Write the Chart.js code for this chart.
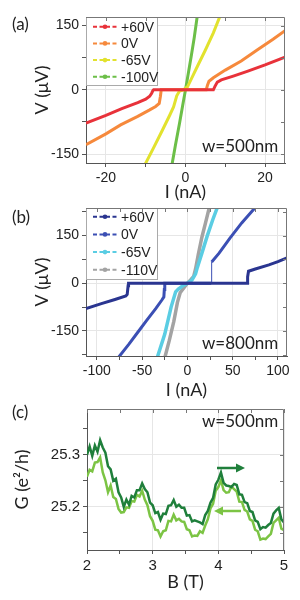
<!DOCTYPE html>
<html>
<head>
<meta charset="utf-8">
<script src="https://cdn.jsdelivr.net/npm/chart.js@4.4.1/dist/chart.umd.min.js"></script>
<style>
  html, body { margin: 0; padding: 0; background: #fff; width: 300px; height: 600px; overflow: hidden; }
  canvas { position: absolute; left: 0; }
</style>
</head>
<body>
<canvas id="chartA" width="300" height="205" style="top:0px"></canvas>
<canvas id="chartB" width="300" height="210" style="top:195px"></canvas>
<canvas id="chartC" width="300" height="205" style="top:395px"></canvas>
<script>
// ---- panel (a): w=500nm ----
const aLabels = ['+60V', '0V', '-65V', '-100V'];
const aColors = ['#e8323a', '#f6893c', '#e2e22e', '#6cbf48'];
const aI60 = [-25, -20, -16, -12, -10, -9, -8.5, -8.2, -8, -4, 0, 4, 7, 7.4, 8, 9, 12, 15.5, 20, 25];
const aV60 = [-78, -60, -44, -30, -22, -15, -8, -2, 0, 0, 0, 0, 0, 8, 18, 23, 32, 43, 58, 76];
const aI0 = [-25, -20, -16.3, -12, -9, -7.5, -6.6, -6.3, -6.1, -3, 0, 3, 5.2, 5.5, 5.9, 7, 10, 14, 18, 22, 25];
const aV0 = [-128, -103, -82, -62, -47, -39, -32, -15, 0, 0, 0, 0, 0, 10, 20, 28, 46, 67, 93, 118, 138];
const aI65 = [-10.2, -8, -6, -4, -3, -2.2, -1.5, -0.5, 0.5, 1.5, 3, 5, 7, 8.8];
const aV65 = [-175, -135, -98, -60, -40, -14, -3, 0, 7, 26, 55, 93, 133, 175];
const aI100 = [-3.4, -2.5, -1.5, -0.7, 0, 0.7, 1.5, 2.2, 3.0];
const aV100 = [-175, -128, -78, -36, 0, 38, 82, 122, 175];
const aXMajor = [-20, 0, 20], aXMinor = [-10, 10];
const aYMajor = [-150, 0, 150], aYMinor = [-75, 75];

// ---- panel (b): w=800nm ----
const bLabels = ['+60V', '0V', '-65V', '-110V'];
const bColors = ['#2a3590', '#3b4fb4', '#5acde3', '#a3a3a3'];
const bI60 = [-112, -95, -80, -68, -66.5, -65.5, -65, -30, 0, 30, 66, 66.5, 67.5, 75, 90, 100, 110];
const bV60 = [-80, -64, -51, -40, -35, -8, 0, 0, 0, 0, 0, 20, 38, 45, 58, 68, 80];
const bI0 = [-78, -65, -55, -45, -35, -28, -26, -25.5, -25, -10, 0, 10, 26.3, 26.8, 35, 47, 60, 76];
const bV0 = [-240, -193, -155, -117, -80, -52, -43, -20, 0, 0, 0, 0, 0, 67, 95, 142, 190, 242];
const bI65 = [-34, -25, -18, -13, -10, -5, 0, 5, 9, 11, 16, 22, 28, 33.5];
const bV65 = [-240, -160, -75, -27, -18, -8, 0, 10, 30, 50, 95, 150, 200, 242];
const bI110 = [-25.5, -20, -15, -11, -8, -4, 0, 4, 7, 9, 12, 16, 20, 24.5];
const bV110 = [-240, -180, -120, -60, -30, -15, 0, 12, 22, 45, 90, 145, 190, 242];
const bXMajor = [-100, -50, 0, 50, 100], bXMinor = [-75, -25, 25, 75];
const bYMajor = [-150, 0, 150], bYMinor = [-225, -75, 75, 225];

// ---- panel (c): G vs B, sweep up / sweep down ----
const cB = [2.00, 2.04, 2.08, 2.12, 2.16, 2.20, 2.24, 2.28, 2.32, 2.36, 2.40, 2.44, 2.48, 2.52, 2.56, 2.60,
  2.64, 2.68, 2.72, 2.76, 2.80, 2.84, 2.88, 2.92, 2.96, 3.00, 3.04, 3.08, 3.12, 3.16, 3.20, 3.24, 3.28,
  3.32, 3.36, 3.40, 3.44, 3.48, 3.52, 3.56, 3.60, 3.64, 3.68, 3.72, 3.76, 3.80, 3.84, 3.88, 3.92, 3.96,
  4.00, 4.04, 4.08, 4.12, 4.16, 4.20, 4.24, 4.28, 4.32, 4.36, 4.40, 4.44, 4.48, 4.52, 4.56, 4.60, 4.64,
  4.68, 4.72, 4.76, 4.80, 4.84, 4.88, 4.92, 4.96, 5.00];
const cUp = [25.300, 25.316, 25.298, 25.318, 25.306, 25.328, 25.314, 25.304, 25.278, 25.272, 25.250, 25.254,
  25.228, 25.218, 25.200, 25.214, 25.204, 25.221, 25.218, 25.232, 25.232, 25.245, 25.234, 25.228, 25.208,
  25.203, 25.188, 25.190, 25.175, 25.187, 25.186, 25.202, 25.203, 25.213, 25.200, 25.204, 25.198, 25.198,
  25.183, 25.184, 25.172, 25.174, 25.172, 25.170, 25.167, 25.184, 25.192, 25.208, 25.217, 25.243, 25.252,
  25.266, 25.246, 25.241, 25.240, 25.238, 25.244, 25.242, 25.224, 25.223, 25.209, 25.207, 25.192, 25.190,
  25.174, 25.171, 25.157, 25.161, 25.160, 25.165, 25.169, 25.187, 25.193, 25.198, 25.176, 25.170];
const cDown = [25.258, 25.271, 25.268, 25.285, 25.286, 25.295, 25.266, 25.251, 25.228, 25.241, 25.219, 25.215,
  25.196, 25.189, 25.190, 25.199, 25.198, 25.211, 25.210, 25.223, 25.220, 25.231, 25.214, 25.203, 25.182,
  25.173, 25.156, 25.155, 25.143, 25.153, 25.155, 25.173, 25.172, 25.185, 25.174, 25.177, 25.172, 25.171,
  25.157, 25.155, 25.143, 25.145, 25.144, 25.153, 25.150, 25.164, 25.176, 25.197, 25.206, 25.231, 25.238,
  25.251, 25.232, 25.227, 25.228, 25.239, 25.234, 25.229, 25.210, 25.209, 25.194, 25.191, 25.176, 25.173,
  25.156, 25.153, 25.137, 25.139, 25.138, 25.143, 25.148, 25.169, 25.174, 25.179, 25.158, 25.155];
const cColors = ['#1f7f3b', '#7cc444'];
const cXMajor = [2, 3, 4, 5], cXMinor = [2.5, 3.5, 4.5];
const cYMajor = [25.2, 25.3], cYMinor = [25.15, 25.25, 25.35];

const TICK_FONT = 'Liberation Sans';
const TITLE_FONT = 'Lato';

function zip(xs, ys) {
  return xs.map((x, i) => ({ x: x, y: ys[i] }));
}

function axis(min, max, major, minor, fmt, title, titlePad, fit, fontSize) {
  const isMajor = v => major.some(m => Math.abs(m - v) < 1e-9);
  return {
    type: 'linear', min: min, max: max,
    afterBuildTicks: s => { s.ticks = major.concat(minor).sort((p, q) => p - q).map(v => ({ value: v })); },
    afterFit: fit,
    grid: {
      color: c => (c.tick && isMajor(c.tick.value)) ? '#e6e6e6' : 'rgba(0,0,0,0)',
      tickColor: '#555', tickLength: 4, drawTicks: true
    },
    border: { color: '#555', width: 1 },
    ticks: {
      callback: v => isMajor(v) ? fmt(v) : '',
      font: { family: TICK_FONT, size: fontSize }, color: '#222',
      padding: 3, autoSkip: false, maxRotation: 0
    },
    title: { display: true, text: title, font: { family: TITLE_FONT, size: 18 }, color: '#222', padding: titlePad }
  };
}

// border on the top and right, with small inward ticks
const framePlugin = {
  id: 'frame',
  afterDraw(chart) {
    const { ctx, chartArea: a, scales } = chart;
    ctx.save();
    ctx.strokeStyle = '#777';
    ctx.lineWidth = 1;
    ctx.beginPath();
    ctx.moveTo(a.left, a.top + 0.5); ctx.lineTo(a.right - 0.5, a.top + 0.5); ctx.lineTo(a.right - 0.5, a.bottom);
    scales.x.ticks.forEach(t => {
      const px = Math.round(scales.x.getPixelForValue(t.value)) + 0.5;
      ctx.moveTo(px, a.top); ctx.lineTo(px, a.top + 4);
    });
    scales.y.ticks.forEach(t => {
      const py = Math.round(scales.y.getPixelForValue(t.value)) + 0.5;
      ctx.moveTo(a.right, py); ctx.lineTo(a.right - 4, py);
    });
    ctx.stroke();
    ctx.restore();
  }
};

// legend box inside the plot, dashed line + dot samples
const boxLegendPlugin = {
  id: 'boxLegend',
  afterDatasetsDraw(chart, args, o) {
    if (!o.show) return;
    const { ctx, chartArea: a } = chart;
    ctx.save();
    ctx.fillStyle = '#fff';
    ctx.strokeStyle = '#aaa';
    ctx.lineWidth = 1;
    ctx.fillRect(a.left, a.top, o.width, o.height);
    ctx.strokeRect(a.left + 0.5, a.top + 0.5, o.width, o.height);
    chart.data.datasets.forEach((ds, i) => {
      const y = a.top + o.first + i * o.step;
      ctx.strokeStyle = ds.borderColor;
      ctx.lineWidth = 2;
      ctx.setLineDash([4, 2.5]);
      ctx.beginPath();
      ctx.moveTo(a.left + 7, y); ctx.lineTo(a.left + 31, y);
      ctx.stroke();
      ctx.setLineDash([]);
      ctx.fillStyle = ds.borderColor;
      ctx.beginPath();
      ctx.arc(a.left + 19, y, 2.3, 0, Math.PI * 2);
      ctx.fill();
      ctx.fillStyle = '#222';
      ctx.font = '14px ' + TICK_FONT;
      ctx.textBaseline = 'middle';
      ctx.fillText(ds.label, a.left + 35, y + 1);
    });
    ctx.restore();
  }
};

// panel letter, width note and sweep arrows
const notesPlugin = {
  id: 'notes',
  afterDraw(chart, args, o) {
    const { ctx } = chart;
    ctx.save();
    ctx.fillStyle = '#222';
    ctx.textBaseline = 'middle';
    ctx.font = '17px ' + TITLE_FONT;
    ctx.fillText(o.panel, 12, o.panelY);
    ctx.fillText(o.tag, 202, o.tagY);
    (o.arrows || []).forEach(ar => {
      const dir = Math.sign(ar.x2 - ar.x1);
      ctx.strokeStyle = ar.color;
      ctx.fillStyle = ar.color;
      ctx.lineWidth = 2.5;
      ctx.beginPath();
      ctx.moveTo(ar.x1, ar.y); ctx.lineTo(ar.x2 - dir * 7, ar.y);
      ctx.stroke();
      ctx.beginPath();
      ctx.moveTo(ar.x2, ar.y); ctx.lineTo(ar.x2 - dir * 9, ar.y - 4.5); ctx.lineTo(ar.x2 - dir * 9, ar.y + 4.5);
      ctx.closePath();
      ctx.fill();
    });
    ctx.restore();
  }
};

function series(label, color, pts, width, thinJumps) {
  return {
    label: label, data: pts, borderColor: color, backgroundColor: color,
    showLine: true, borderWidth: width, pointRadius: 0, clip: 0, tension: 0,
    segment: thinJumps ? {
      borderWidth: c => (Math.abs(c.p1.y - c.p0.y) > 12 && Math.abs(c.p1.x - c.p0.x) < 2) ? 1 : undefined
    } : undefined
  };
}

function makeChart(id, datasets, xAx, yAx, pad, legend, notes) {
  return new Chart(document.getElementById(id), {
    type: 'scatter',
    data: { datasets: datasets },
    options: {
      responsive: false, animation: false, devicePixelRatio: 1,
      layout: { padding: pad },
      scales: { x: xAx, y: yAx },
      plugins: {
        legend: { display: false }, tooltip: { enabled: false },
        boxLegend: legend, notes: notes
      }
    },
    plugins: [framePlugin, boxLegendPlugin, notesPlugin]
  });
}

const intFmt = v => String(Math.round(v));

// (a) canvas 205 tall: plot area y 17..163, x 86..285
makeChart('chartA', [
    series(aLabels[0], aColors[0], zip(aI60, aV60), 3),
    series(aLabels[1], aColors[1], zip(aI0, aV0), 3),
    series(aLabels[2], aColors[2], zip(aI65, aV65), 3),
    series(aLabels[3], aColors[3], zip(aI100, aV100), 3)
  ],
  axis(-25, 25, aXMajor, aXMinor, intFmt, 'I (nA)', { top: 0, bottom: 2 }, s => { s.height = 42; }, 14),
  axis(-171, 170, aYMajor, aYMinor, intFmt, 'V (\u03bcV)', { top: 31, bottom: 0 }, s => { s.width = 86; }, 14),
  { top: 17, right: 15, left: 0, bottom: 0 },
  { show: true, width: 71, height: 68, first: 9.7, step: 16.7 },
  { panel: '(a)', panelY: 25, tag: 'w=500nm', tagY: 147 }
);

// (b) canvas at y=195, 210 tall: plot area y 13..161, x 86..287
makeChart('chartB', [
    series(bLabels[0], bColors[0], zip(bI60, bV60), 3, true),
    series(bLabels[1], bColors[1], zip(bI0, bV0), 3, true),
    series(bLabels[2], bColors[2], zip(bI65, bV65), 3.5),
    series(bLabels[3], bColors[3], zip(bI110, bV110), 3.5)
  ],
  axis(-112, 110, bXMajor, bXMinor, intFmt, 'I (nA)', { top: 0, bottom: 4 }, s => { s.height = 49; }, 14),
  axis(-229, 237, bYMajor, bYMinor, intFmt, 'V (\u03bcV)', { top: 31, bottom: 0 }, s => { s.width = 86; }, 14),
  { top: 13, right: 13, left: 0, bottom: 0 },
  { show: true, width: 71, height: 71, first: 8.7, step: 17.7 },
  { panel: '(b)', panelY: 23, tag: 'w=800nm', tagY: 149 }
);

// (c) canvas at y=395, 205 tall: plot area y 14..155, x 87..284
makeChart('chartC', [
    series('up', cColors[0], zip(cB, cUp), 2.5),
    series('down', cColors[1], zip(cB, cDown), 2.5)
  ],
  axis(2, 5, cXMajor, cXMinor, intFmt, 'B (T)', { top: 0, bottom: 7 }, s => { s.height = 50; }, 15),
  axis(25.117, 25.388, cYMajor, cYMinor, v => v.toFixed(1), 'G (e\u00b2/h)', { top: 11, bottom: 0 }, s => { s.width = 87; }, 15),
  { top: 14, right: 16, left: 0, bottom: 0 },
  { show: false },
  { panel: '(c)', panelY: 18, tag: 'w=500nm', tagY: 27,
    arrows: [
      { x1: 217, x2: 245, y: 73, color: cColors[0] },
      { x1: 241, x2: 214, y: 116, color: cColors[1] }
    ] }
);
</script>
</body>
</html>
